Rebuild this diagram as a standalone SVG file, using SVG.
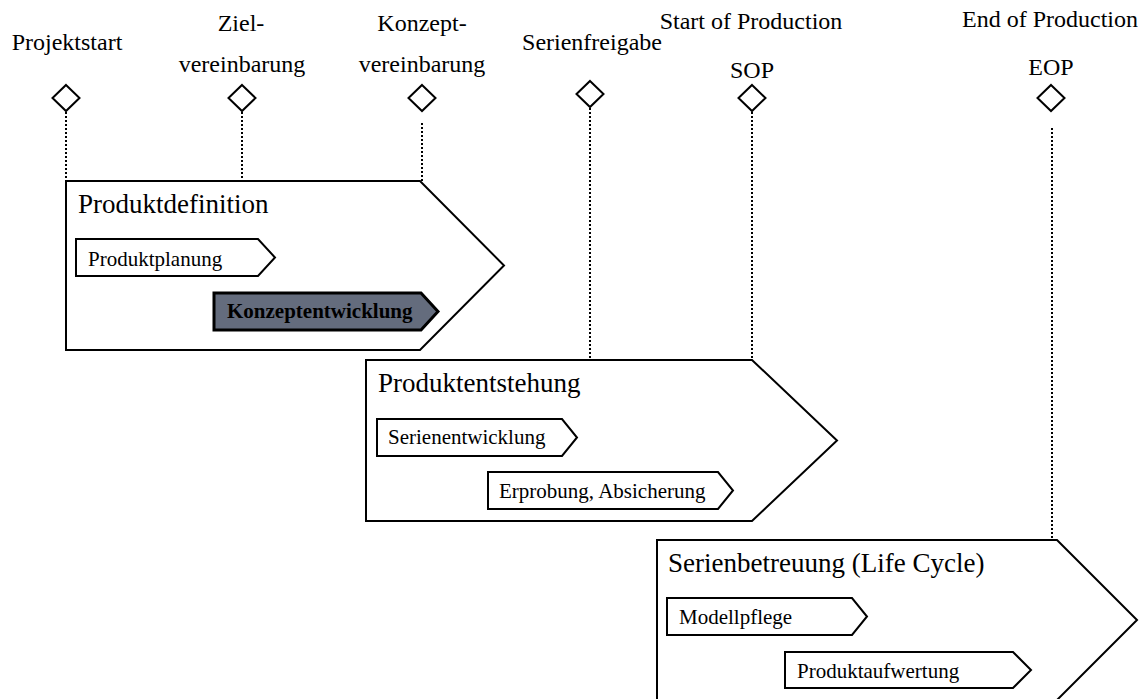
<svg xmlns="http://www.w3.org/2000/svg" width="1140" height="699" viewBox="0 0 1140 699">
  <defs>
    <style>
      .lbl { font-family: "Liberation Serif", "Times New Roman", serif; fill: #000; }
      .ms { font-size: 24px; text-anchor: middle; }
      .phase { font-size: 27px; }
      .step { font-size: 21px; }
      .bold { font-weight: bold; }
      .shape { fill: #fff; stroke: #000; stroke-width: 2; stroke-linejoin: miter; }
      .active { fill: #646c7d; stroke: #000; stroke-width: 3; }
      .diamond { fill: #fff; stroke: #000; stroke-width: 2; }
      .guide { stroke: #000; stroke-width: 2; stroke-dasharray: 2 2; fill: none; }
    </style>
  </defs>
  <rect width="1140" height="699" fill="#fff"/>

  <!-- dotted guide lines from milestones down to phases -->
  <g id="connectors">
    <line class="guide" x1="66" y1="112" x2="66" y2="181"/>
    <line class="guide" x1="242" y1="112" x2="242" y2="181"/>
    <line class="guide" x1="422" y1="123" x2="422" y2="181"/>
    <line class="guide" x1="590" y1="108" x2="590" y2="360"/>
    <line class="guide" x1="752" y1="112" x2="752" y2="360"/>
    <line class="guide" x1="1052" y1="128" x2="1052" y2="540"/>
  </g>

  <!-- milestones -->
  <g id="ms-projektstart">
    <text class="lbl ms" x="67" y="50">Projektstart</text>
    <path class="diamond" d="M66,85 L79.5,98 L66,111 L52.5,98 Z"/>
  </g>
  <g id="ms-zielvereinbarung">
    <text class="lbl ms" x="241" y="31">Ziel-</text>
    <text class="lbl ms" x="242" y="72">vereinbarung</text>
    <path class="diamond" d="M242,85 L255.5,98 L242,111 L228.5,98 Z"/>
  </g>
  <g id="ms-konzeptvereinbarung">
    <text class="lbl ms" x="422" y="31">Konzept-</text>
    <text class="lbl ms" x="422" y="72">vereinbarung</text>
    <path class="diamond" d="M422,85 L435.5,98 L422,111 L408.5,98 Z"/>
  </g>
  <g id="ms-serienfreigabe">
    <text class="lbl ms" x="592" y="50">Serienfreigabe</text>
    <path class="diamond" d="M590,81 L603.5,94 L590,107 L576.5,94 Z"/>
  </g>
  <g id="ms-sop">
    <text class="lbl ms" x="751" y="29">Start of Production</text>
    <text class="lbl ms" x="752" y="78">SOP</text>
    <path class="diamond" d="M752,85 L765.5,98 L752,111 L738.5,98 Z"/>
  </g>
  <g id="ms-eop">
    <text class="lbl ms" x="1050" y="27">End of Production</text>
    <text class="lbl ms" x="1051" y="75">EOP</text>
    <path class="diamond" d="M1051,85 L1064.5,98 L1051,111 L1037.5,98 Z"/>
  </g>

  <!-- phase 1 -->
  <g id="phase-produktdefinition">
    <path class="shape" d="M66,181 H420 L504,265.5 L420,350 H66 Z"/>
    <text class="lbl phase" x="78" y="213">Produktdefinition</text>
  </g>
  <g id="step-produktplanung">
    <path class="shape" d="M76,239 H258 L275,257.5 L258,276 H76 Z"/>
    <text class="lbl step" x="88" y="266">Produktplanung</text>
  </g>
  <g id="step-konzeptentwicklung">
    <path class="active" d="M214,293 H421 L438,311.5 L421,330 H214 Z"/>
    <text class="lbl step bold" x="227" y="318">Konzeptentwicklung</text>
  </g>

  <!-- phase 2 -->
  <g id="phase-produktentstehung">
    <path class="shape" d="M366,360 H752 L837,440.5 L752,521 H366 Z"/>
    <text class="lbl phase" x="378" y="392">Produktentstehung</text>
  </g>
  <g id="step-serienentwicklung">
    <path class="shape" d="M377,419 H562 L577,437.5 L562,456 H377 Z"/>
    <text class="lbl step" x="388" y="444">Serienentwicklung</text>
  </g>
  <g id="step-erprobung">
    <path class="shape" d="M488,472 H718 L733,490.5 L718,509 H488 Z"/>
    <text class="lbl step" x="499" y="498">Erprobung, Absicherung</text>
  </g>

  <!-- phase 3 -->
  <g id="phase-serienbetreuung">
    <path class="shape" d="M657,540 H1057 L1137,620 L1057,700 H657 Z"/>
    <text class="lbl phase" x="668" y="572">Serienbetreuung (Life Cycle)</text>
  </g>
  <g id="step-modellpflege">
    <path class="shape" d="M667,598 H852 L867,616.5 L852,635 H667 Z"/>
    <text class="lbl step" x="679" y="624">Modellpflege</text>
  </g>
  <g id="step-produktaufwertung">
    <path class="shape" d="M785,652 H1013 L1031,670 L1013,688 H785 Z"/>
    <text class="lbl step" x="797" y="678">Produktaufwertung</text>
  </g>
</svg>
